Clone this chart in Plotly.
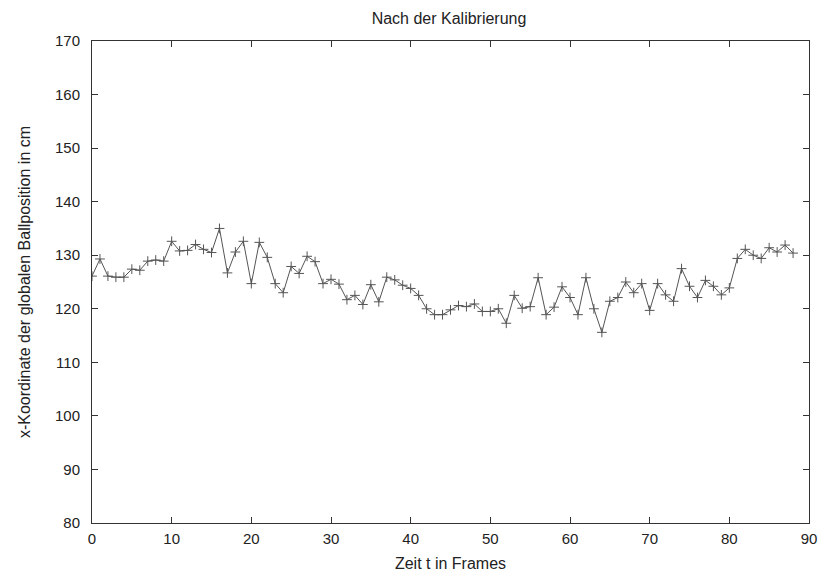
import plotly.graph_objects as go

frames = list(range(89))
x_pos = [126.1, 129.3, 126.1, 125.9, 125.9, 127.4, 127.2, 128.9, 129.1, 128.9,
         132.6, 130.8, 130.9, 132.0, 131.1, 130.5, 135.0, 126.7, 130.6, 132.6,
         124.7, 132.4, 129.6, 124.7, 123.0, 127.9, 126.6, 129.8, 128.8, 124.7,
         125.5, 124.6, 121.7, 122.5, 120.8, 124.5, 121.3, 125.9, 125.4, 124.4,
         123.8, 122.5, 120.0, 118.9, 118.9, 119.8, 120.6, 120.4, 120.9, 119.5,
         119.5, 120.0, 117.3, 122.5, 120.1, 120.4, 125.8, 118.9, 120.3, 124.1,
         122.1, 118.9, 125.8, 120.0, 115.6, 121.4, 122.1, 125.0, 123.0, 124.7,
         119.7, 124.7, 122.6, 121.4, 127.5, 124.2, 122.1, 125.3, 124.2, 122.6,
         123.9, 129.4, 131.1, 130.0, 129.4, 131.4, 130.6, 131.9, 130.4]

x_ticks = [0, 10, 20, 30, 40, 50, 60, 70, 80, 90]
y_ticks = [80, 90, 100, 110, 120, 130, 140, 150, 160, 170]

FONT = "Liberation Sans, Arial"
TXT = "#222222"

fig = go.Figure()
fig.add_trace(go.Scatter(
    x=frames, y=x_pos, mode="lines+markers",
    line=dict(color="#555555", width=1),
    marker=dict(symbol="cross-thin-open", size=7,
                line=dict(color="#333333", width=1)),
    showlegend=False,
))

axis_common = dict(
    showgrid=False, zeroline=False, showline=True, linecolor="#333333",
    linewidth=1, mirror="allticks", ticks="inside", ticklen=6,
    tickcolor="#333333", tickfont=dict(family=FONT, size=15, color=TXT),
    automargin=False,
)

fig.update_layout(
    width=832, height=572,
    margin=dict(l=92, r=23, t=41, b=49),
    paper_bgcolor="white", plot_bgcolor="white",
    title=dict(text="Nach der Kalibrierung", x=0.5397, xanchor="center",
               y=0.968, yanchor="middle",
               font=dict(family=FONT, size=16, color=TXT)),
    xaxis=dict(range=[0, 90], tickvals=x_ticks, ticklabelstandoff=2,
               title=dict(text="Zeit t in Frames", standoff=12,
                          font=dict(family=FONT, size=16, color=TXT)),
               **axis_common),
    yaxis=dict(range=[80, 170], tickvals=y_ticks, ticklabelstandoff=8,
               title=dict(text="x-Koordinate der globalen Ballposition in cm", standoff=20,
                          font=dict(family=FONT, size=16, color=TXT)),
               **axis_common),
)

fig.write_html("out.html")
